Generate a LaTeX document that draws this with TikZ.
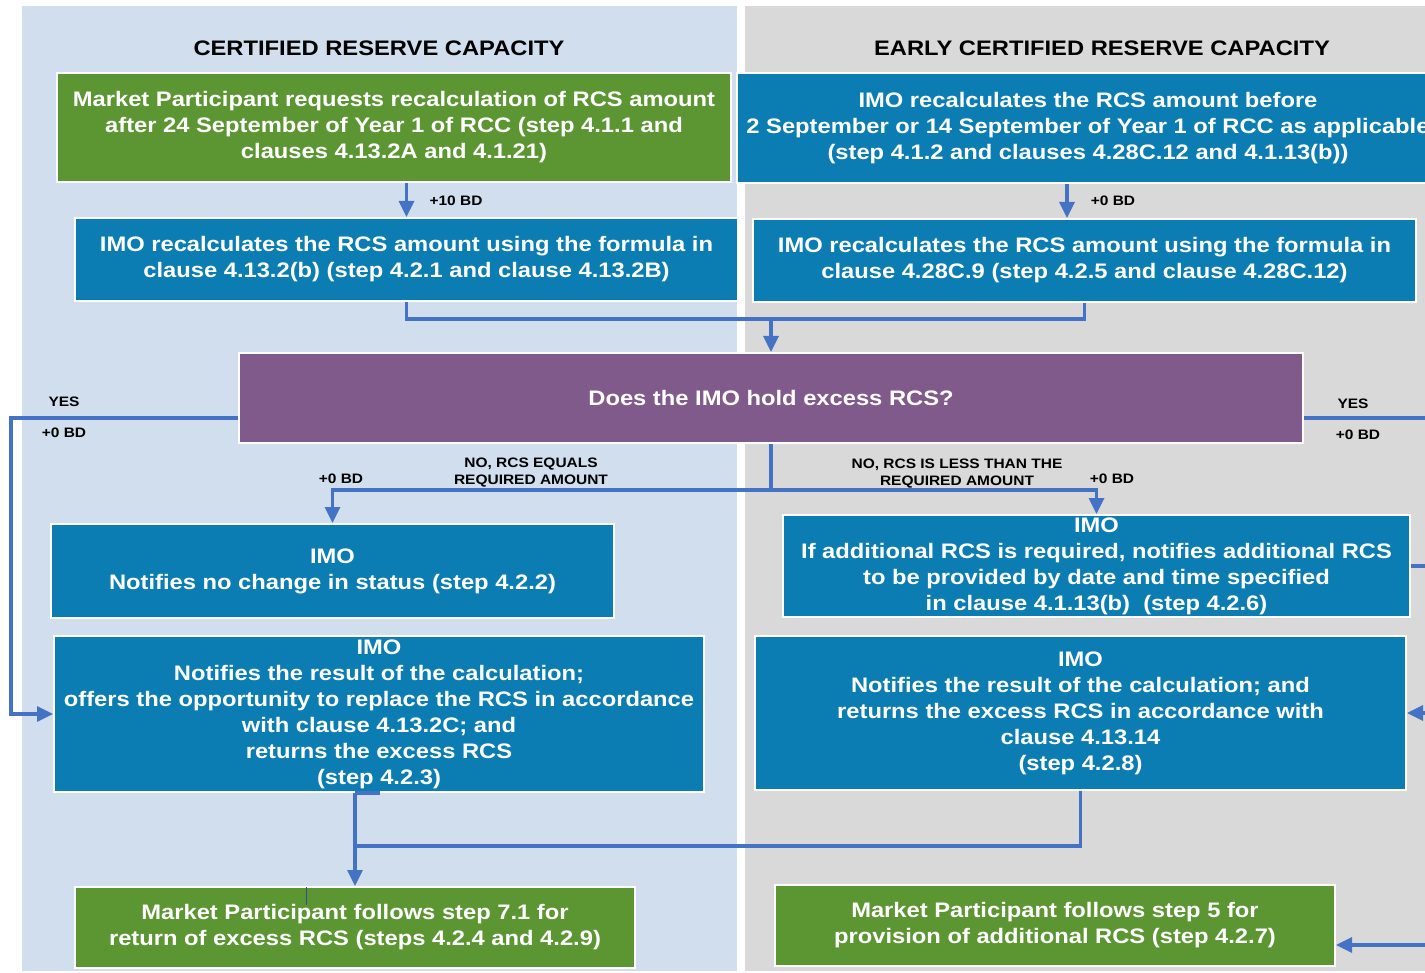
\documentclass[tikz,border=0pt]{standalone}
\usepackage{fontspec}
\setmainfont{Liberation Sans}[FakeStretch=1.13]
\usetikzlibrary{arrows.meta,calc}
\definecolor{cgreen}{HTML}{5C9632}
\definecolor{cblue}{HTML}{0B7DB2}
\definecolor{cpurple}{HTML}{805A8A}
\definecolor{cline}{HTML}{4472C4}
\definecolor{lpanel}{HTML}{D1DEEE}
\definecolor{rpanel}{HTML}{D9D9D9}
\begin{document}
\begin{tikzpicture}[x=1pt,y=-1pt,
 box/.style={draw=white,line width=2pt,text=white,align=center,inner sep=0pt,font=\fontsize{21}{26}\selectfont\bfseries},
 gbox/.style={box,fill=cgreen},
 bbox/.style={box,fill=cblue},
 pbox/.style={box,fill=cpurple},
 conn/.style={draw=cline,line width=3.3pt},
 arr/.style={conn,-{Triangle[length=16pt,width=15pt]}},
 lbl/.style={font=\fontsize{13.7}{17}\selectfont\bfseries,align=center,inner sep=0pt},
 ttl/.style={font=\fontsize{21}{26}\selectfont\bfseries,inner sep=0pt}]
\useasboundingbox (0,0) rectangle (1425,973);
\clip (0,0) rectangle (1425,973);
\fill[white] (0,0) rectangle (1425,973);
% panels
\fill[lpanel] (22,6) rectangle (737,971);
\fill[rpanel] (745,6) rectangle (1430,971);
% titles
\node[ttl] (t1) at (379,48) {CERTIFIED RESERVE CAPACITY};
\node[ttl] (t2) at (1102,48) {EARLY CERTIFIED RESERVE CAPACITY};
% boxes
\node[gbox,minimum width=674pt,minimum height=109pt] (G1) at (394,127.5)
 {Market Participant requests recalculation of RCS amount\\after 24 September of Year 1 of RCC (step 4.1.1 and\\clauses 4.13.2A and 4.1.21)};
\node[bbox,minimum width=702pt,minimum height=110pt] (B1) at (1088,128)
 {IMO recalculates the RCS amount before\\2 September or 14 September of Year 1 of RCC as applicable\\(step 4.1.2 and clauses 4.28C.12 and 4.1.13(b))};
\node[bbox,minimum width=663pt,minimum height=83pt] (B2) at (406.5,259.5)
 {IMO recalculates the RCS amount using the formula in\\clause 4.13.2(b) (step 4.2.1 and clause 4.13.2B)};
\node[bbox,minimum width=663pt,minimum height=83pt] (B3) at (1084.5,260.5)
 {IMO recalculates the RCS amount using the formula in\\clause 4.28C.9 (step 4.2.5 and clause 4.28C.12)};
\node[pbox,minimum width=1064pt,minimum height=90pt] (dec) at (771,398)
 {Does the IMO hold excess RCS?};
\node[bbox,minimum width=563pt,minimum height=94pt] (B4) at (332.5,571)
 {IMO\\Notifies no change in status (step 4.2.2)};
\node[bbox,minimum width=627pt,minimum height=102pt] (B5) at (1096.5,566)
 {IMO\\If additional RCS is required, notifies additional RCS\\to be provided by date and time specified\\in clause 4.1.13(b)\ \ (step 4.2.6)};
\node[bbox,minimum width=650pt,minimum height=156pt] (B6) at (379,714)
 {IMO\\Notifies the result of the calculation;\\offers the opportunity to replace the RCS in accordance\\with clause 4.13.2C; and\\returns the excess RCS\\(step 4.2.3)};
\node[bbox,minimum width=651pt,minimum height=154pt] (B7) at (1080.5,713)
 {IMO\\Notifies the result of the calculation; and\\returns the excess RCS in accordance with\\clause 4.13.14\\(step 4.2.8)};
\node[gbox,minimum width=560pt,minimum height=81pt] (G2) at (355,927.5)
 {Market Participant follows step 7.1 for\\return of excess RCS (steps 4.2.4 and 4.2.9)};
\node[gbox,minimum width=560pt,minimum height=81pt] (G3) at (1055,925.5)
 {Market Participant follows step 5 for\\provision of additional RCS (step 4.2.7)};
\draw[cline!70!black,line width=0.7pt] (306,887) -- (306,905);
% helper coordinates
\coordinate (c1) at (1067,0);
\coordinate (m1) at (771,319);
\coordinate (yl) at (11,418);
\coordinate (m2) at (771,490);
\coordinate (r1) at (1445,418);
\coordinate (r2) at (1440,945);
\coordinate (m3) at (355,846);
% connectors
\draw[arr] (G1.south -| B2) -- (B2.north);
\draw[arr] (B1.south -| c1) -- (B3.north -| c1);
\draw[conn] (B2.south) |- (m1);
\draw[conn] (B3.south) |- (m1);
\draw[arr] (m1) -- (dec.north);
\draw[arr] (dec.west |- yl) -- (yl) |- (B6.west);
\draw[conn] (dec.south) -- (m2);
\draw[arr] (m2) -| (B4.north);
\draw[arr] (m2) -| (B5.north);
\draw[arr] (dec.east |- r1) -- (r1) |- (B7.east);
\draw[arr] (B5.east) -| (r2) -- (G3.east |- r2);
\draw[arr] (B6.south -| G2) -- (G2.north);
\draw[conn] (B6.south -| G2) -- ++(25,0);
\draw[conn] (B7.south) |- (m3);
% labels
\node[lbl] (l1) at (456,201) {+10 BD};
\node[lbl] (l2) at (1113,201) {+0 BD};
\node[lbl] (l3) at (64,402) {YES};
\node[lbl] (l4) at (64,433) {+0 BD};
\node[lbl] (l5) at (341,479) {+0 BD};
\node[lbl] (l6) at (531,472.5) {NO, RCS EQUALS\\REQUIRED AMOUNT};
\node[lbl] (l7) at (957,474) {NO, RCS IS LESS THAN THE\\REQUIRED AMOUNT};
\node[lbl] (l8) at (1112,479) {+0 BD};
\node[lbl] (l9) at (1353,404) {YES};
\node[lbl] (l10) at (1358,435) {+0 BD};
\end{tikzpicture}
\end{document}
